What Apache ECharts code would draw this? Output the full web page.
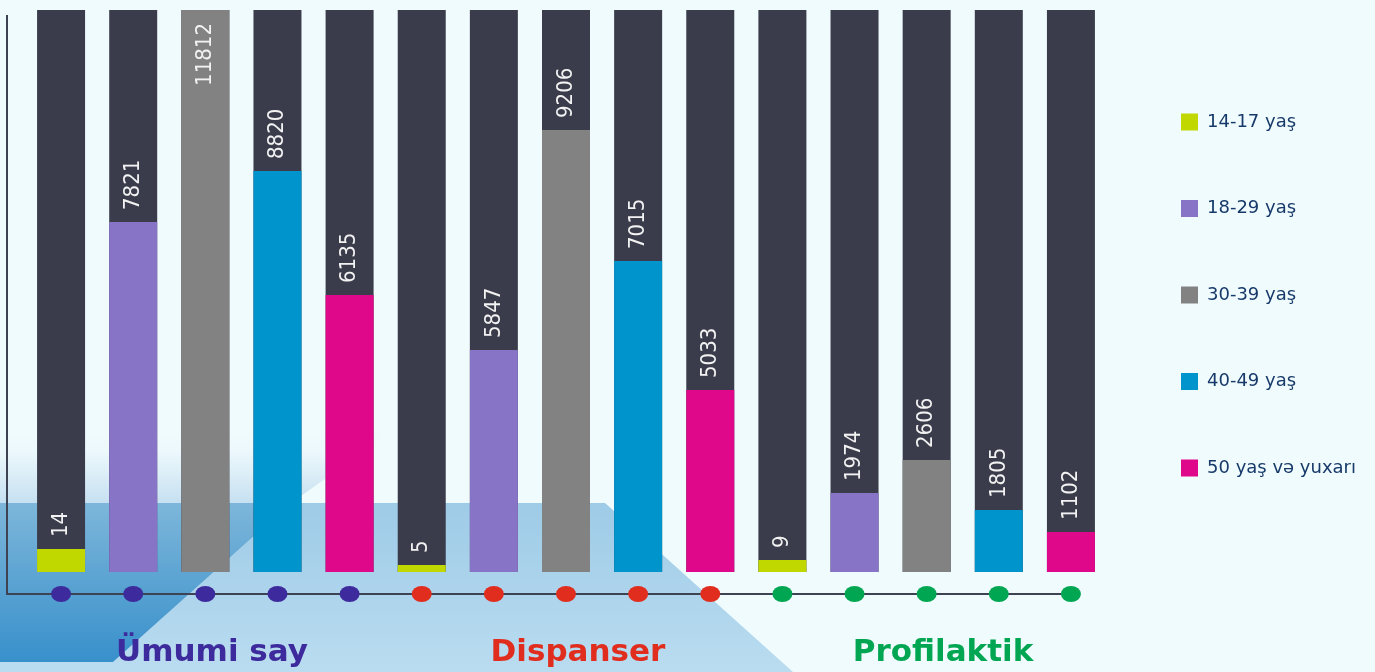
<!DOCTYPE html>
<html><head><meta charset="utf-8">
<script src="https://cdn.jsdelivr.net/npm/echarts@6/dist/echarts.min.js"></script>
<style>html,body{margin:0;padding:0;background:#f0fbfd}#c{width:1375px;height:672px}</style>
</head><body><div id="c"></div>
<script>
// ---- data ----
const groups = ['Ümumi say', 'Dispanser', 'Profilaktik'];
const ageGroups = ['14-17 yaş', '18-29 yaş', '30-39 yaş', '40-49 yaş', '50 yaş və yuxarı'];
// numbers printed on the bars
const labelValues = [14, 7821, 11812, 8820, 6135, 5, 5847, 9206, 7015, 5033, 9, 1974, 2606, 1805, 1102];
// bar lengths as drawn in the source picture (same units)
const barLengths = [483, 7356, 11812, 8428, 5822, 147, 4666, 9290, 6537, 3825, 252, 1660, 2354, 1303, 841];
const axisMax = 11812;

// ---- styles ----
const ageColors = ['#c0d800', '#8874c6', '#828282', '#0094cd', '#e0088a'];
const groupColors = ['#3d2a9c', '#e02d1e', '#00a651'];
const darkBar = '#3a3c4b';
const yMin = -axisMax * 22 / 562; // room under bars for the dot row

const categories = [];
groups.forEach(g => ageGroups.forEach(a => categories.push(g + ' / ' + a)));

const labelFont = "'DejaVu Sans Condensed', 'DejaVu Sans', sans-serif";

const series = [{
  name: 'bg', type: 'bar', barWidth: 48, barGap: '-100%', silent: true,
  itemStyle: { color: darkBar }, z: 1,
  data: categories.map(() => axisMax)
}];
ageGroups.forEach((age, k) => {
  series.push({
    name: age, type: 'bar', barWidth: 48, barGap: '-100%', z: 2,
    itemStyle: { color: ageColors[k] },
    label: {
      show: true, position: 'top', rotate: 90, align: 'left', verticalAlign: 'middle',
      distance: 12, color: '#f2f2f2', fontSize: 22, fontFamily: labelFont,
      formatter: p => String(labelValues[p.dataIndex])
    },
    data: categories.map((c, i) => {
      if (i % 5 !== k) return '-';
      const item = { value: barLengths[i] };
      if (barLengths[i] >= axisMax) {
        item.label = { position: 'insideTop', align: 'right', distance: 13 };
      }
      return item;
    })
  });
});
series.push({
  name: 'dots', type: 'scatter', symbol: 'circle', symbolSize: [20, 16], clip: false, z: 5, silent: true,
  data: categories.map((c, i) => ({ value: [i, yMin], itemStyle: { color: groupColors[Math.floor(i / 5)], opacity: 1 } }))
});

const chart = echarts.init(document.getElementById('c'), null, { renderer: 'canvas' });
chart.setOption({
  backgroundColor: '#f0fbfd',
  animation: false,
  grid: { left: 25, top: 10, width: 1082, bottom: 78, containLabel: false },
  xAxis: { type: 'category', data: categories, show: false },
  yAxis: { type: 'value', min: yMin, max: axisMax, show: false },
  legend: {
    data: ageGroups, orient: 'vertical', left: 1181, top: 113, padding: 0,
    itemWidth: 17, itemHeight: 17, itemGap: 68.5, icon: 'rect', selectedMode: false,
    textStyle: { fontFamily: 'DejaVu Sans', fontSize: 18, color: '#173a6a', padding: [0, 0, 0, 4] }
  },
  graphic: [
    { type: 'polygon', z: -10, silent: true,
      shape: { points: [[0, 430], [394, 430], [291, 503], [0, 503]] },
      style: { fill: { type: 'linear', x: 0, y: 0, x2: 0, y2: 1, colorStops: [
        { offset: 0, color: 'rgba(240,251,253,1)' }, { offset: 0.3, color: 'rgba(236,248,252,1)' }, { offset: 1, color: '#c6e0f1' }] } } },
    { type: 'polygon', z: -10, silent: true,
      shape: { points: [[291, 503], [605, 503], [793, 672], [0, 672], [0, 662], [113, 662]] },
      style: { fill: { type: 'linear', x: 0, y: 0, x2: 0, y2: 1, colorStops: [
        { offset: 0, color: '#9ecbe7' }, { offset: 1, color: '#badcf0' }] } } },
    { type: 'polygon', z: -10, silent: true,
      shape: { points: [[0, 503], [291, 503], [113, 662], [0, 662]] },
      style: { fill: { type: 'linear', x: 0, y: 0, x2: 0, y2: 1, colorStops: [
        { offset: 0, color: '#7db6da' }, { offset: 1, color: '#3890cb' }] } } },
    { type: 'polyline', z: 1, silent: true,
      shape: { points: [[7, 15], [7, 594], [1074, 594]] },
      style: { stroke: '#3d4352', lineWidth: 2, fill: null } },
    ...groups.map((g, i) => ({
      type: 'text', z: 10, silent: true,
      x: [212, 578, 943][i], y: 653,
      style: { text: g, fill: groupColors[i], font: "bold 31px 'DejaVu Sans'", textAlign: 'center', textVerticalAlign: 'middle' }
    }))
  ],
  series: series
});
</script>
</body></html>
